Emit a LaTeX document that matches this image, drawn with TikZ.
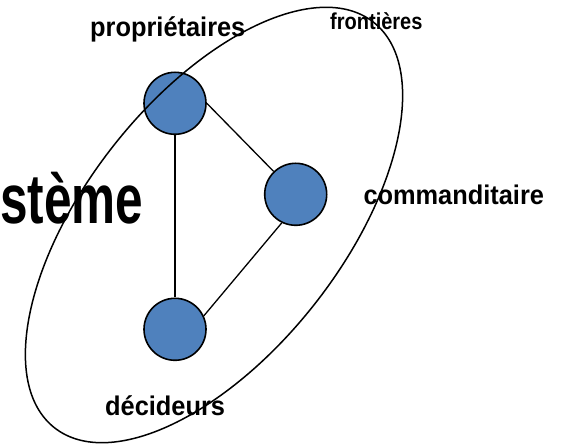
\documentclass[tikz,border=0pt]{standalone}
\usepackage{fontspec}
\setmainfont{Liberation Sans}
\begin{document}
\begin{tikzpicture}[x=1pt,y=1pt,
  actor/.style={circle,draw=black,line width=1.6pt,fill=actorblue,minimum size=62pt,inner sep=0pt},
  link/.style={line width=1.3pt},
  border/.style={line width=1.5pt},
  lbl/.style={anchor=base west,inner sep=0pt,font=\bfseries}]
\definecolor{actorblue}{HTML}{4F81BD}
\useasboundingbox (0,0) rectangle (562,444);

% actors
\node[actor] (prop) at (175,340.7) {};
\node[actor] (comm) at (295.7,249.7) {};
\node[actor] (deci) at (175,114.7) {};

% relations between actors
\draw[link] (prop.south) -- (deci.north);
\draw[link] (prop.0) -- (comm.134);
\draw[link] (comm.244) -- (deci.25);

% labels
\node[lbl] (tprop) at (90,407) {\fontsize{27}{27}\selectfont\scalebox{0.94}[1]{propriétaires}};
\node[lbl] (tfront) at (330,414) {\fontsize{23}{23}\selectfont\scalebox{0.87}[1]{frontières}};
\node[lbl] (tcomm) at (363.3,239.7) {\fontsize{27}{27}\selectfont\scalebox{0.94}[1]{commanditaire}};
\node[lbl] (tdeci) at (105,28) {\fontsize{27}{27}\selectfont\scalebox{0.94}[1]{décideurs}};
\node[lbl] (tsys) at (0,220) {\fontsize{70}{70}\selectfont\scalebox{0.707}[1]{stème}};

% system boundary
\draw[border] (214,219) ellipse[x radius=258,y radius=128,rotate=51.8];
\end{tikzpicture}
\end{document}
